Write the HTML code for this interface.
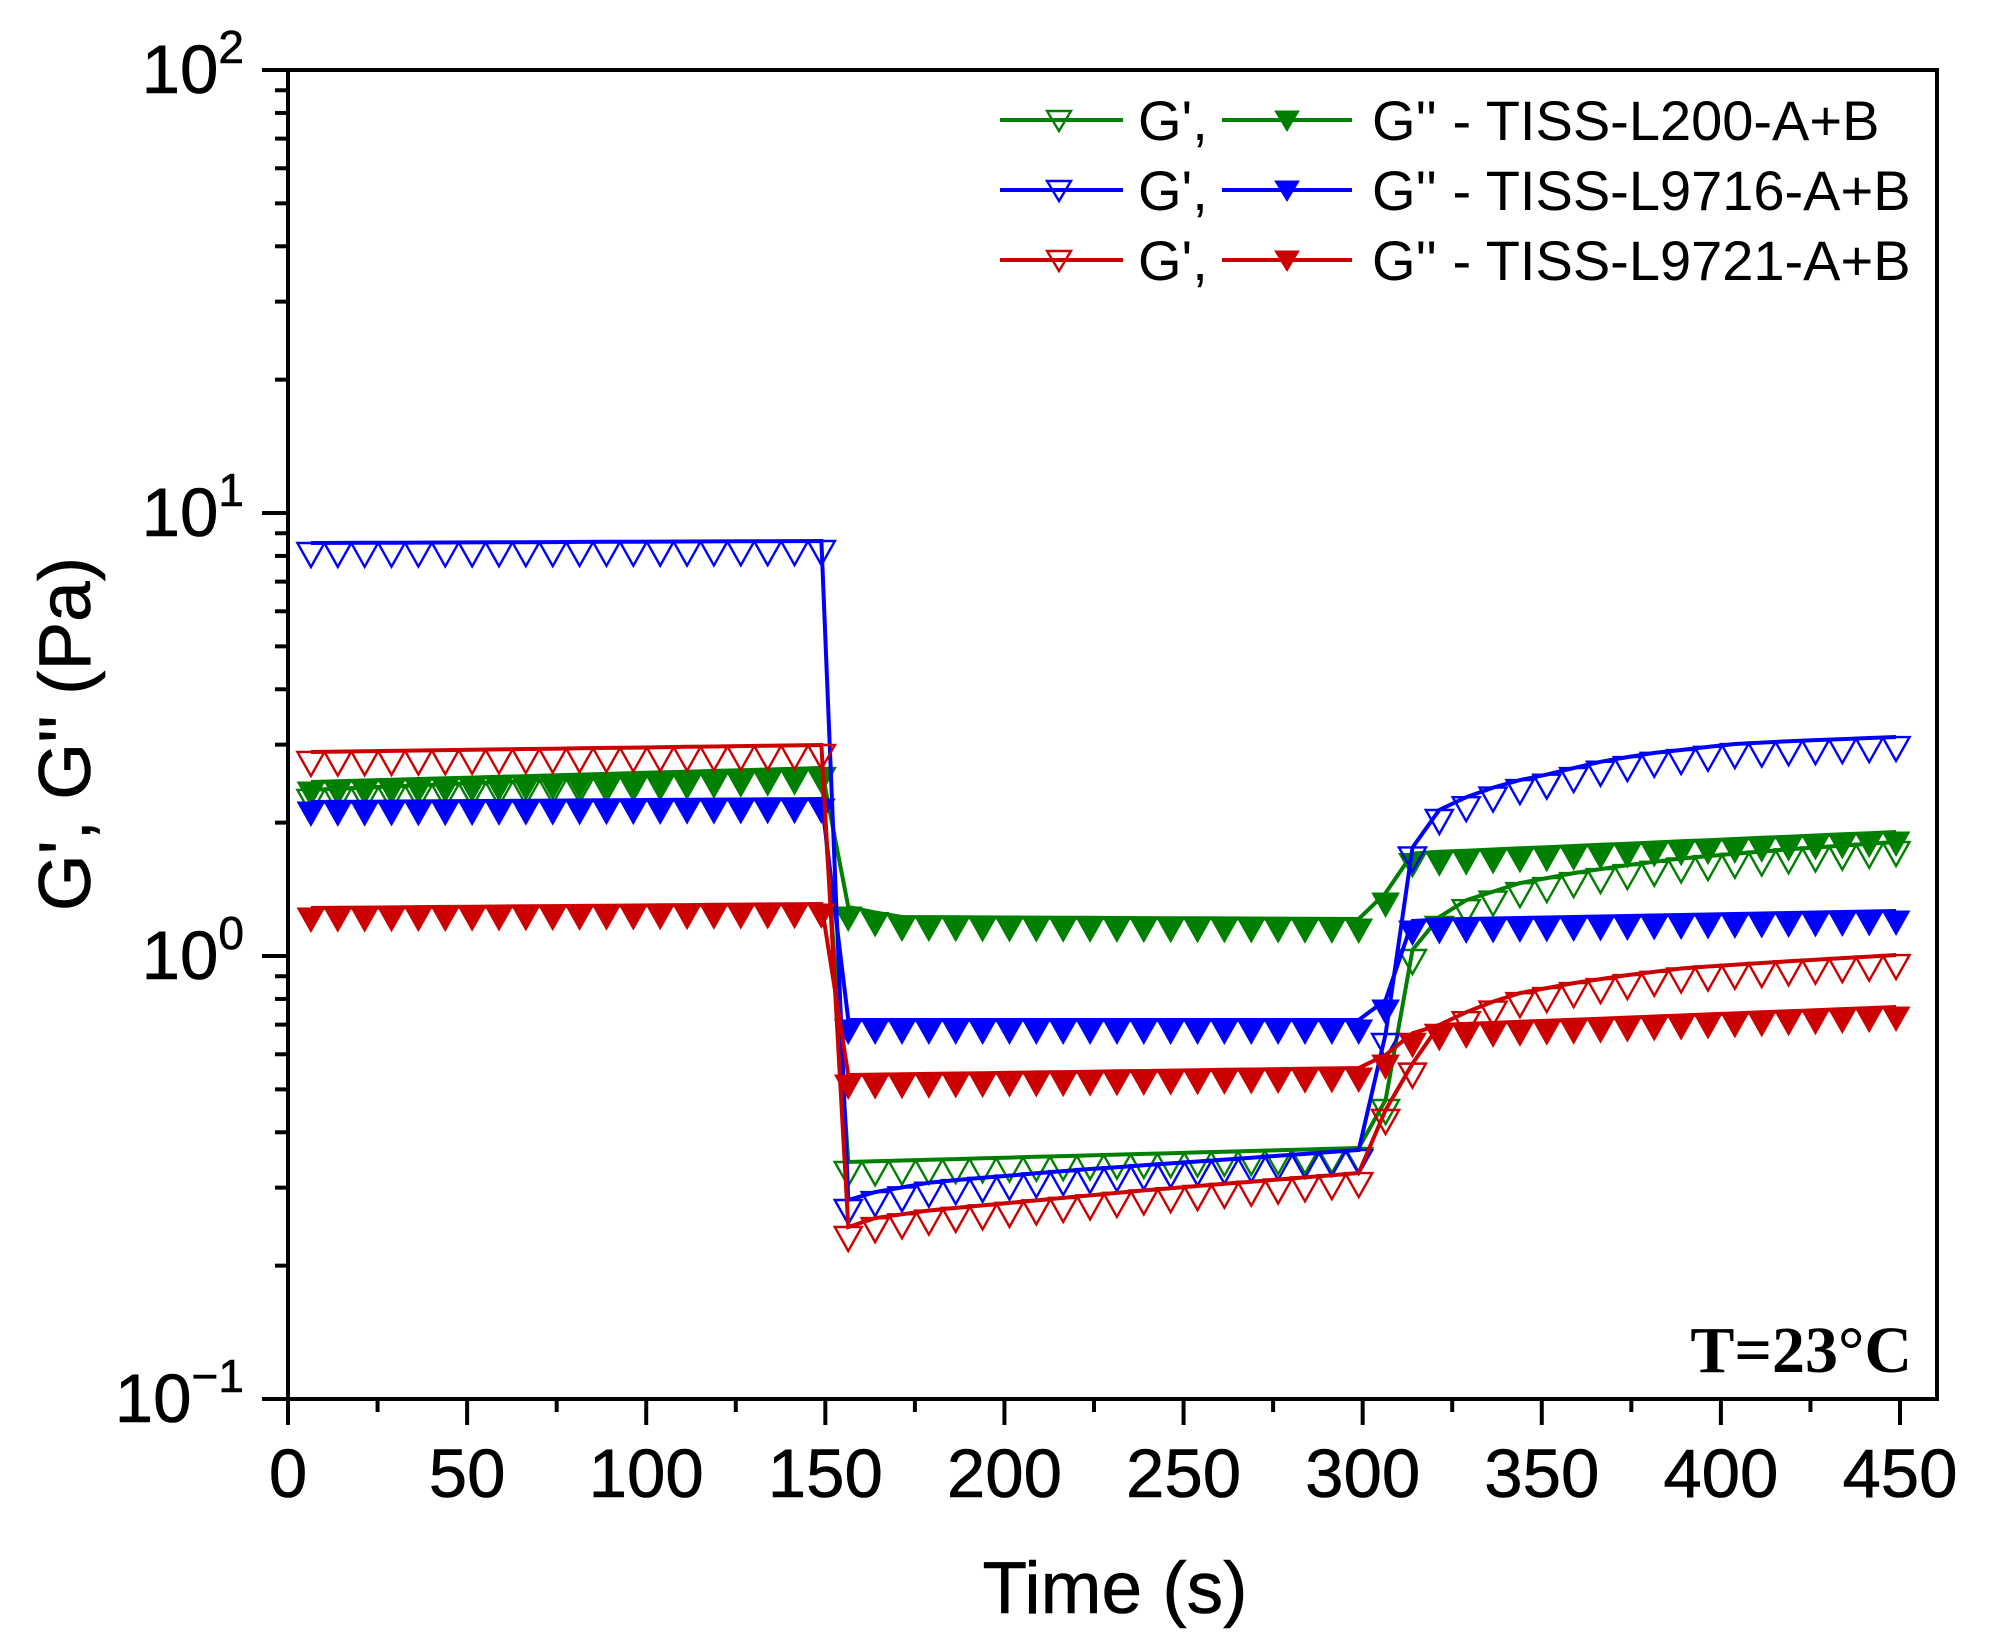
<!DOCTYPE html>
<html><head><meta charset="utf-8"><style>
html,body{margin:0;padding:0;background:#fff;}
svg{display:block;}
text{font-family:"Liberation Sans",Arial,sans-serif;fill:#000;}
</style></head><body>
<svg id="s" width="1994" height="1652" viewBox="0 0 1994 1652" xmlns="http://www.w3.org/2000/svg">
<rect width="1994" height="1652" fill="#fff"/>
<g id="data"></g>
<rect x="288" y="70" width="1649" height="1329" fill="none" stroke="#000" stroke-width="4"/>
<g id="ticks" stroke="#000" stroke-width="4"></g>
<g font-size="69" stroke="#000" stroke-width="0.6">
<text x="244" y="93" text-anchor="end">10<tspan font-size="46" dy="-30">2</tspan></text>
<text x="244" y="536" text-anchor="end">10<tspan font-size="46" dy="-30">1</tspan></text>
<text x="244" y="979" text-anchor="end">10<tspan font-size="46" dy="-30">0</tspan></text>
<text x="244" y="1422" text-anchor="end">10<tspan font-size="46" dy="-30">−1</tspan></text>
</g>
<g id="xl" font-size="69" text-anchor="middle" stroke="#000" stroke-width="0.6"></g>
<text x="1115" y="1613" font-size="73" text-anchor="middle" stroke="#000" stroke-width="0.6">Time (s)</text>
<text transform="translate(90,734) rotate(-90)" font-size="73" text-anchor="middle" stroke="#000" stroke-width="0.6">G', G'' (Pa)</text>
<text x="1912" y="1372" font-size="66" font-weight="bold" text-anchor="end" style="font-family:'Liberation Serif',serif">T=23°C</text>
<g id="leg" font-size="56"></g>
</svg>
<script>
var NS="http://www.w3.org/2000/svg";
function el(p,tag,a,txt){var e=document.createElementNS(NS,tag);for(var k in a)e.setAttribute(k,a[k]);if(txt!=null)e.textContent=txt;p.appendChild(e);return e;}
var X=function(t){return 288+t*1612/450;};
var ticks=document.getElementById('ticks');
for(var t=0;t<=450;t+=25){var x=X(t);el(ticks,'line',{x1:x,y1:1399,x2:x,y2:(t%50==0)?1425:1412});}
var xl=document.getElementById('xl');
for(var t=0;t<=450;t+=50){el(xl,'text',{x:X(t),y:1497},String(t));}
for(var d=-1;d<=2;d++){var y=956-443*d;el(ticks,'line',{x1:262,y1:y,x2:288,y2:y});
 if(d<2)for(var m=2;m<=9;m++){var yy=y-443*Math.log10(m);el(ticks,'line',{x1:275,y1:yy,x2:288,y2:yy});}}
var S={
gGp:{c:'#008000',f:false,k:[[6,790],[149,768],[156.4,1162],[299,1148],[306.4,1100],[314,948],[321.4,917],[329,900],[336,892],[344,883],[359,873],[374,865],[390,858],[420,849],[449,842]]},
gGpp:{c:'#008000',f:true,k:[[6,782],[149,768],[156.4,907],[170,917],[299,919],[306.4,893],[314,853],[449,832]]},
bGp:{c:'#0000ff',f:false,k:[[6,543],[149,541],[156.4,1200],[164,1192],[180,1182],[220,1170],[260,1160],[299,1150],[306.4,1034],[314,845],[321.4,810],[329,797],[336,788],[344,780],[351,775],[359,768],[366,762],[374,757],[381,753],[389,750],[396,747],[404,744],[420,741],[449,737]]},
bGpp:{c:'#0000ff',f:true,k:[[6,802],[149,799],[156.4,1020],[299,1020],[306.4,1000],[314,920],[449,911]]},
rGp:{c:'#cc0000',f:false,k:[[6,752],[149,745],[156.4,1227],[164,1218],[180,1210],[240,1190],[299,1173],[306.4,1110],[314,1063],[321.4,1025],[329,1012],[336,1002],[344,993],[359,983],[374,975],[390,968],[420,961],[449,955]]},
rGpp:{c:'#cc0000',f:true,k:[[6,908],[149,904],[156.4,1075],[299,1068],[306.4,1055],[314,1033],[321.4,1025],[449,1007]]}
};
function interp(k,t){if(t<=k[0][0])return k[0][1];for(var i=1;i<k.length;i++){if(t<=k[i][0]){var a=k[i-1],b=k[i];return a[1]+(b[1]-a[1])*(t-a[0])/(b[0]-a[0]);}}return k[k.length-1][1];}
function tri(g,x,y,w,h,c,f){return el(g,'polygon',{points:(x-w/2)+','+y+' '+(x+w/2)+','+y+' '+x+','+(y+h),fill:f?c:'#fff','fill-opacity':f?1:0,stroke:c,'stroke-width':f?1:2.4});}
var dg=document.getElementById('data');
['gGp','gGpp','bGp','bGpp','rGp','rGpp'].forEach(function(n){var s=S[n];var pts=[];var g=el(dg,'g',{});
 for(var i=0;i<60;i++){var t=6.4+7.5*i;pts.push([X(t),interp(s.k,t)]);}
 el(g,'polyline',{points:pts.map(function(p){return p[0].toFixed(1)+','+p[1].toFixed(1);}).join(' '),fill:'none',stroke:s.c,'stroke-width':4});
 pts.forEach(function(p){tri(g,p[0],p[1],27,24,s.c,s.f);});
});
var leg=document.getElementById('leg');
var rows=[[120,'#008000','G\'\' - TISS-L200-A+B'],[190,'#0000ff','G\'\' - TISS-L9716-A+B'],[260,'#cc0000','G\'\' - TISS-L9721-A+B']];
rows.forEach(function(r){var y=r[0],c=r[1];
 el(leg,'line',{x1:1000,y1:y,x2:1123,y2:y,stroke:c,'stroke-width':4});
 el(leg,'line',{x1:1222,y1:y,x2:1352,y2:y,stroke:c,'stroke-width':4});
 tri(leg,1059,y-9,24,20,c,false);
 tri(leg,1287,y-9,24,20,c,true);
 el(leg,'text',{x:1138,y:y+20},"G',");
 el(leg,'text',{x:1372,y:y+20},r[2]);
});
</script>
</body></html>
